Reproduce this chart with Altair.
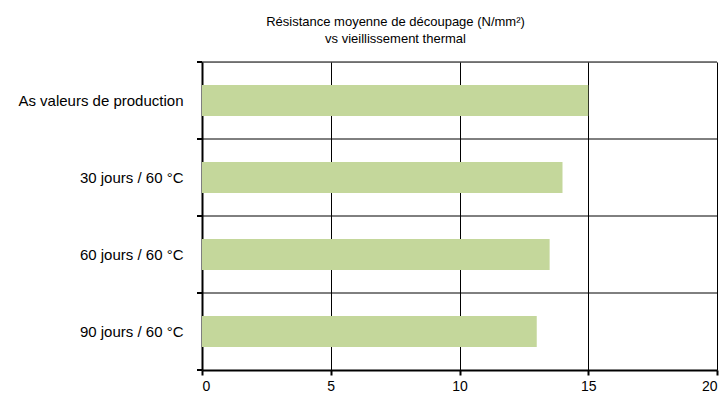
import altair as alt
import pandas as pd

categories = ["As valeurs de production", "30 jours / 60 °C", "60 jours / 60 °C", "90 jours / 60 °C"]
values = [15, 14, 13.5, 13]
x_ticks = [0, 5, 10, 15, 20]

df = pd.DataFrame({"cat": categories, "val": values})

W, H = 515, 308
FONT = "Liberation Sans"

yenc = dict(field="cat", type="nominal", sort=categories,
            scale=alt.Scale(paddingInner=0, paddingOuter=0))

bars = alt.Chart(df).mark_bar(color="#C4D79B", size=31).encode(
    x=alt.X("val:Q", scale=alt.Scale(domain=[0, 20], nice=False),
            axis=alt.Axis(values=x_ticks, grid=True, gridColor="black", gridWidth=1,
                          gridOpacity=1, domainColor="black", domainWidth=2,
                          tickColor="black", tickWidth=2, tickSize=5,
                          labelPadding=4, labelFontSize=14, labelFont=FONT,
                          labelColor="black", title=None)),
    y=alt.Y(**yenc, axis=alt.Axis(grid=False, ticks=False, domainColor="black",
                                  domainWidth=2, labelPadding=19, labelFontSize=15,
                                  labelFont=FONT, labelColor="black", title=None)),
)

hgrid = alt.Chart(df).mark_rule(color="black", strokeWidth=1).encode(
    y=alt.Y(**yenc, bandPosition=0),
    x=alt.value(0), x2=alt.value(W),
)
lticks0 = alt.Chart(df).mark_rule(color="black", strokeWidth=2).encode(
    y=alt.Y(**yenc, bandPosition=0),
    x=alt.value(-5), x2=alt.value(0),
)
lticks1 = alt.Chart(df).mark_rule(color="black", strokeWidth=2).encode(
    y=alt.Y(**yenc, bandPosition=1),
    x=alt.value(-5), x2=alt.value(0),
)

chart = alt.layer(hgrid, bars, lticks0, lticks1).properties(
    width=W, height=H,
    autosize="none",
    padding={"left": 194, "top": 54, "right": 3, "bottom": 23},
    title=alt.TitleParams(
        ["Résistance moyenne de découpage  (N/mm²)", "vs vieillissement thermal"],
        font=FONT, fontSize=13, fontWeight="normal", color="black",
        anchor="middle", dx=-64, offset=15, lineHeight=17,
    ),
).configure_view(stroke="black", strokeWidth=1).configure(background="white")

chart.save("out.html", embed_options={"renderer": "svg", "actions": False})
